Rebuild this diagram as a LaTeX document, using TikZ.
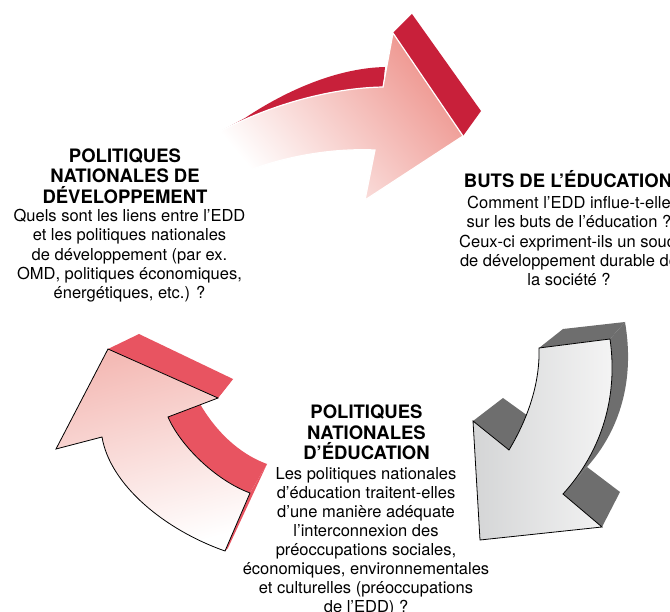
\documentclass[tikz,border=0pt]{standalone}
\usepackage{fontspec}
\setmainfont{TeX Gyre Heros}
\definecolor{redD}{HTML}{C8203A}
\definecolor{pinkA}{HTML}{EE948D}
\definecolor{redL}{HTML}{E85461}
\definecolor{pinkB}{HTML}{F4BAB5}
\definecolor{grayD}{HTML}{6E6E6E}
\definecolor{grayL}{HTML}{D4D5D6}
\definecolor{grayR}{HTML}{F5F5F5}
\begin{document}
\begin{tikzpicture}[x=1pt,y=-1pt,
  ttl/.style={font=\bfseries\fontsize{18.5}{20.3}\selectfont, align=center, inner sep=0pt, anchor=north},
  txt/.style={font=\fontsize{16.5}{19.3}\selectfont, align=center, inner sep=0pt, anchor=north},
  face/.style={draw=black, line width=0.8pt, line join=miter}]
\useasboundingbox (0,0) rectangle (670,612);

% ---------- top arrow (red) ----------
\fill[redD] (221,131) .. controls (270,105) and (330,88) .. (383,87) -- (385,67)
  .. controls (340,68) and (290,88) .. (245,118) -- cycle;
\fill[redD] (393,33) -- (412,14) -- (481,111) -- (463,136) -- cycle;
\shade[draw=white, line width=1.2pt, top color=pinkA, bottom color=white, shading angle=-50]
  (221,131) .. controls (270,105) and (330,88) .. (383,87) -- (393,33) -- (463,136)
  -- (365,200) -- (375,150) .. controls (330,148) and (285,157) .. (250,170) -- cycle;

% ---------- right arrow (gray) ----------
\fill[grayD] (539,348) -- (563,329) -- (625,322) -- (610,339) -- cycle;
\fill[grayD] (610,339) .. controls (618,395) and (603,450) .. (563,494) -- (587,467)
  .. controls (620,430) and (635,380) .. (625,322) -- cycle;
\fill[grayD] (563,494) -- (587,467) -- (620,492) -- (602,527) -- cycle;
\fill[grayD] (473,421) -- (503,398) -- (528,416) -- (509,450) -- cycle;
\shade[face, left color=grayL, right color=grayR]
  (539,348) -- (610,339) .. controls (618,395) and (603,450) .. (563,494)
  -- (602,527) -- (480,540) -- (473,421) -- (509,450)
  .. controls (530,415) and (540,380) .. (539,348) -- cycle;

% ---------- left arrow (red) ----------
\fill[redL] (108,349) -- (139,334) -- (233,379) -- (218,398) -- cycle;
\fill[redL] (218,398) -- (233,379) -- (200,404) -- (168,417) -- cycle;
\fill[redL] (168,417) .. controls (180,445) and (215,480) .. (250,493) -- (267,464)
  .. controls (245,456) and (220,438) .. (200,404) -- cycle;
\fill[redL] (250,493) -- (267,464) -- (228,548) -- (225,551) -- cycle;
\shade[face, top color=pinkB, bottom color=white, shading angle=15]
  (108,349) -- (218,398) -- (168,417) .. controls (180,445) and (215,480) .. (250,493)
  -- (225,551) .. controls (165,530) and (110,485) .. (102,437) -- (56,449) -- cycle;

% ---------- texts ----------
\node[ttl] (devT) at (125,148.5) {POLITIQUES\\NATIONALES DE\\DÉVELOPPEMENT};
\node[txt] (devB) at (129.5,209) {Quels sont les liens entre l’EDD\\et les politiques nationales\\de développement (par ex.\\OMD, politiques économiques,\\énergétiques, etc.) ?};

\node[ttl, anchor=base] (butT) at (568,188) {BUTS DE L’ÉDUCATION};
\node[txt] (butB) at (569,196) {Comment l’EDD influe-t-elle\\sur les buts de l’éducation ?\\Ceux-ci expriment-ils un souci\\de développement durable de\\la société ?};

\node[ttl] (eduT) at (366.5,405) {POLITIQUES\\NATIONALES\\D’ÉDUCATION};
\node[txt, font=\fontsize{16.5}{19}\selectfont] (eduB) at (366,467) {Les politiques nationales\\d’éducation traitent-elles\\d’une manière adéquate\\l’interconnexion des\\préoccupations sociales,\\économiques, environnementales\\et culturelles (préoccupations\\de l’EDD) ?};
\end{tikzpicture}
\end{document}
